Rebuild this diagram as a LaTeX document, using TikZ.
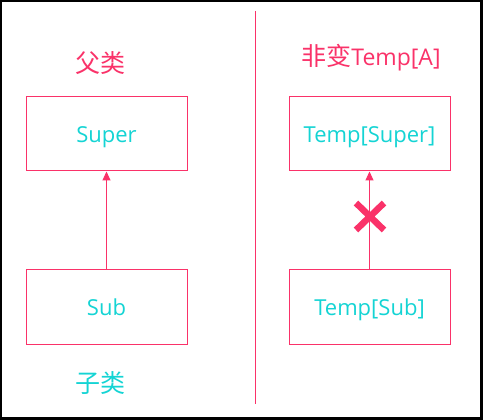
\documentclass[tikz,border=0pt]{standalone}
\usepackage{fontspec}
\setmainfont{Open Sans}
\newfontfamily\cjk{Noto Sans CJK SC}
\usetikzlibrary{arrows.meta}
\definecolor{pk}{RGB}{250,50,105}
\definecolor{cy}{RGB}{20,212,212}
\begin{document}
\begin{tikzpicture}[x=1pt,y=-1pt,
  box/.style={draw=pk,line width=1pt,minimum width=161pt,minimum height=74pt,inner sep=0pt,text=cy,
    text height=22pt,text depth=4pt,font=\fontsize{22}{25}\selectfont},
  lbl/.style={inner sep=0pt,font=\fontsize{23}{26}\selectfont},
  conn/.style={draw=pk,line width=1pt,-{Triangle[length=9pt,width=8pt]}}]
\useasboundingbox (0,0) rectangle (483,420);
\fill[black] (0,0) rectangle (483,420);
\fill[white] (2,2) rectangle (480,417);
\node[box] (super) at (106.5,134) {Super};
\node[box] (sub) at (106.5,307) {Sub};
\node[box] (tsuper) at (369.5,134) {Temp[Super]};
\node[box] (tsub) at (369.5,307) {Temp[Sub]};
\draw[conn] (sub) -- (super);
\draw[conn] (tsub) -- (tsuper);
\node[lbl,text=pk,font=\fontsize{25}{28}\selectfont] (fu) at (100.5,63) {\cjk 父类};
\node[lbl,text=cy,font=\fontsize{25}{28}\selectfont] (zi) at (100.5,383) {\cjk 子类};
\node[lbl,text=pk] (title) at (371,58) {{\fontsize{25}{28}\selectfont\cjk 非变}Temp[A]};
\coordinate (d1) at (255,11);
\coordinate (d2) at (255,404);
\draw[pk,line width=1pt] (d1) -- (d2);
\coordinate (xc) at (370,216.5);
\draw[pk,line width=6.5pt] ([shift={(-14,-13.5)}]xc) -- ([shift={(14,13.5)}]xc)
  ([shift={(-14,13.5)}]xc) -- ([shift={(14,-13.5)}]xc);
\end{tikzpicture}
\end{document}
